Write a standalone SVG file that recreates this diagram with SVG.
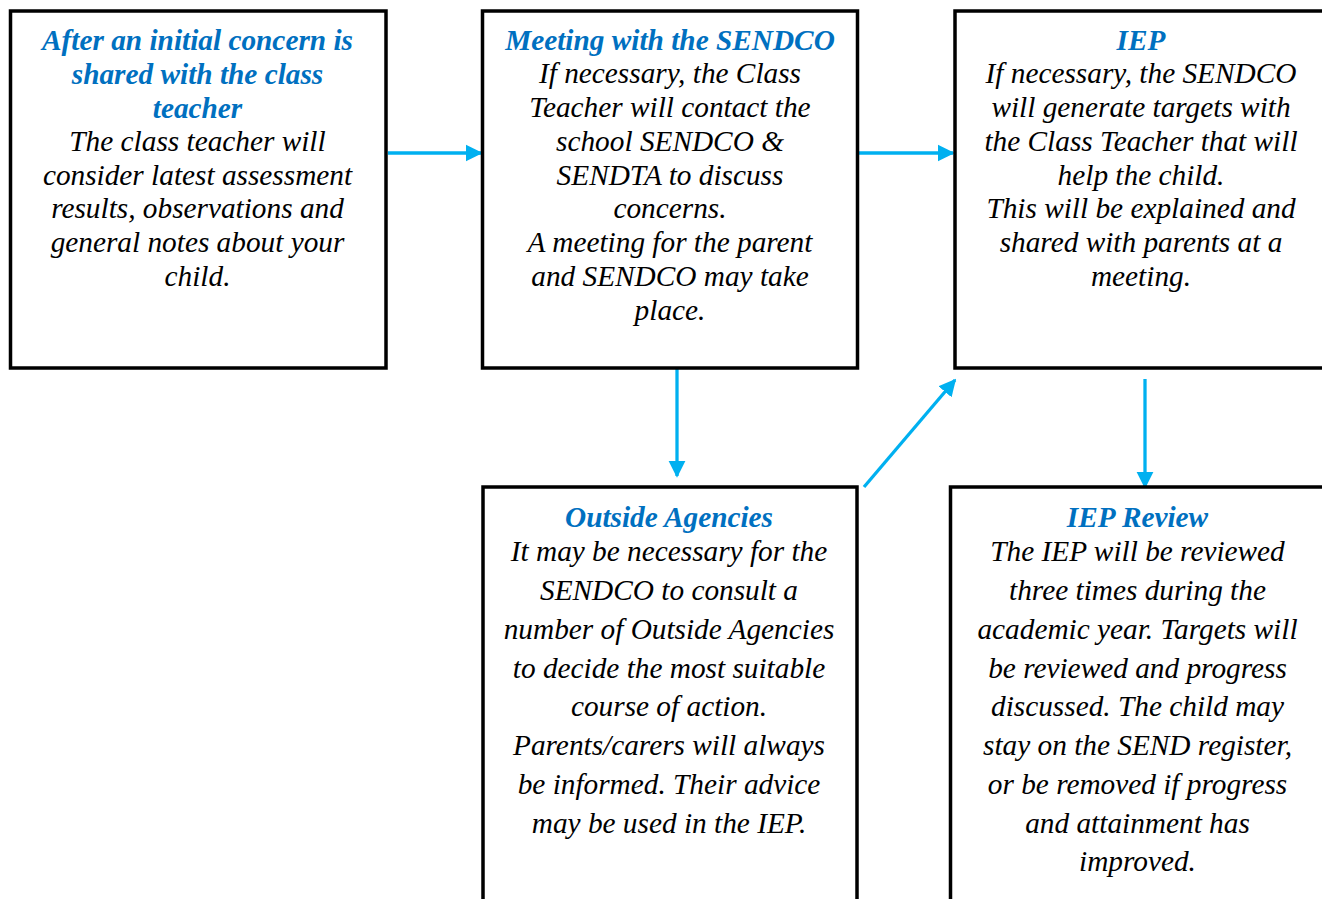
<svg xmlns="http://www.w3.org/2000/svg" width="1322" height="899" viewBox="0 0 1322 899">
<style>
.box{fill:#fff;stroke:#000;stroke-width:3.5}
text{font-family:"Liberation Serif","Times New Roman",serif;font-style:italic;font-size:29.3px;fill:#000;text-anchor:middle}
.h{font-weight:bold;fill:#0070C0}
.c{stroke:#00B0F0;stroke-width:3.3;fill:none;marker-end:url(#ah)}
</style>
<defs>
<marker id="ah" viewBox="0 0 10 10" refX="9" refY="5" markerWidth="5.2" markerHeight="5.2" orient="auto" markerUnits="strokeWidth">
<path d="M0,0 L10,5 L0,10 z" fill="#00B0F0"/>
</marker>
</defs>
<rect width="1322" height="899" fill="#fff"/>
<g id="connectors">
<line class="c" x1="388" y1="153" x2="481" y2="153"/>
<line class="c" x1="859" y1="153" x2="953" y2="153"/>
<line class="c" x1="677" y1="369" x2="677" y2="476"/>
<line class="c" x1="864" y1="487" x2="955" y2="380"/>
<line class="c" x1="1145" y1="379" x2="1145" y2="487"/>
</g>
<g id="n1">
<rect class="box" x="10.5" y="11" width="375.5" height="357"/>
<text x="197.5"><tspan class="h" x="197.5" y="50">After an initial concern is</tspan><tspan class="h" x="197.5" y="84">shared with the class</tspan><tspan class="h" x="197.5" y="118">teacher</tspan><tspan x="197.5" y="151">The class teacher will</tspan><tspan x="197.5" y="185">consider latest assessment</tspan><tspan x="197.5" y="218">results, observations and</tspan><tspan x="197.5" y="252">general notes about your</tspan><tspan x="197.5" y="286">child.</tspan></text>
</g>
<g id="n2">
<rect class="box" x="482.5" y="11" width="375" height="357"/>
<text x="670"><tspan class="h" x="670" y="50">Meeting with the SENDCO</tspan><tspan x="670" y="83">If necessary, the Class</tspan><tspan x="670" y="117">Teacher will contact the</tspan><tspan x="670" y="151">school SENDCO &amp;</tspan><tspan x="670" y="185">SENDTA to discuss</tspan><tspan x="670" y="218">concerns.</tspan><tspan x="670" y="252">A meeting for the parent</tspan><tspan x="670" y="286">and SENDCO may take</tspan><tspan x="670" y="320">place.</tspan></text>
</g>
<g id="n3">
<rect class="box" x="955" y="11" width="380" height="357"/>
<text x="1141"><tspan class="h" x="1141" y="50">IEP</tspan><tspan x="1141" y="83">If necessary, the SENDCO</tspan><tspan x="1141" y="117">will generate targets with</tspan><tspan x="1141" y="151">the Class Teacher that will</tspan><tspan x="1141" y="185">help the child.</tspan><tspan x="1141" y="218">This will be explained and</tspan><tspan x="1141" y="252">shared with parents at a</tspan><tspan x="1141" y="286">meeting.</tspan></text>
</g>
<g id="n4">
<rect class="box" x="483" y="487" width="374" height="430"/>
<text x="669"><tspan class="h" x="669" y="527">Outside Agencies</tspan><tspan x="669" y="561">It may be necessary for the</tspan><tspan x="669" y="600">SENDCO to consult a</tspan><tspan x="669" y="639">number of Outside Agencies</tspan><tspan x="669" y="678">to decide the most suitable</tspan><tspan x="669" y="716">course of action.</tspan><tspan x="669" y="755">Parents/carers will always</tspan><tspan x="669" y="794">be informed. Their advice</tspan><tspan x="669" y="833">may be used in the IEP.</tspan></text>
</g>
<g id="n5">
<rect class="box" x="950.5" y="487" width="390" height="430"/>
<text x="1137.5"><tspan class="h" x="1137.5" y="527">IEP Review</tspan><tspan x="1137.5" y="561">The IEP will be reviewed</tspan><tspan x="1137.5" y="600">three times during the</tspan><tspan x="1137.5" y="639">academic year. Targets will</tspan><tspan x="1137.5" y="678">be reviewed and progress</tspan><tspan x="1137.5" y="716">discussed. The child may</tspan><tspan x="1137.5" y="755">stay on the SEND register,</tspan><tspan x="1137.5" y="794">or be removed if progress</tspan><tspan x="1137.5" y="833">and attainment has</tspan><tspan x="1137.5" y="871">improved.</tspan></text>
</g>
</svg>
